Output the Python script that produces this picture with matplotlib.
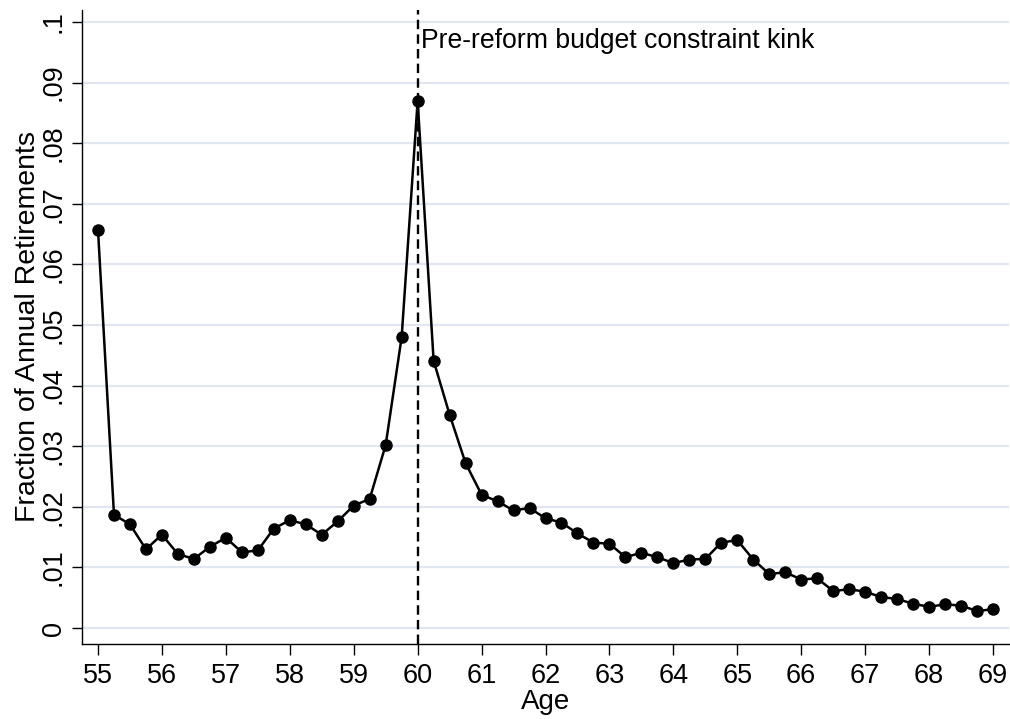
import matplotlib.pyplot as plt
import numpy as np

plt.rcParams['font.family'] = ['Liberation Sans', 'DejaVu Sans']

# retirement age by quarter
edad = np.arange(55, 69.01, 0.25)
fraccion = [0.0657, 0.0187, 0.0171, 0.0130, 0.0154, 0.0122, 0.0114, 0.0134,
            0.0149, 0.0125, 0.0128, 0.0164, 0.0178, 0.0171, 0.0154, 0.0176,
            0.0202, 0.0213, 0.0302, 0.0480, 0.0870, 0.0441, 0.0352, 0.0272,
            0.0220, 0.0209, 0.0194, 0.0198, 0.0181, 0.0174, 0.0156, 0.0141,
            0.0139, 0.0117, 0.0124, 0.0117, 0.0107, 0.0113, 0.0114, 0.0141,
            0.0145, 0.0113, 0.0089, 0.0092, 0.0080, 0.0082, 0.0061, 0.0064,
            0.0060, 0.0051, 0.0048, 0.0040, 0.0035, 0.0039, 0.0037, 0.0028,
            0.0031]

ytick_vals = np.arange(0, 0.101, 0.01)
ytick_txt = ["0", ".01", ".02", ".03", ".04", ".05", ".06", ".07", ".08", ".09", ".1"]
xtick_vals = np.arange(55, 70)

fig = plt.figure(figsize=(10.1, 7.19), dpi=100)
ax = fig.add_axes([0.0812, 0.1043, 0.9178, 0.882])

for y in ytick_vals:
    ax.axhline(y, color='#e1e6f0', lw=1.6, zorder=0)

ax.plot(edad, fraccion, color='black', lw=1.8, marker='o', markersize=8, zorder=3)
ax.axvline(60, color='black', lw=1.7, linestyle=(0, (4, 2.2)), zorder=2)
ax.text(60.05, 0.0957, "Pre-reform budget constraint kink", fontsize=19.2,
        va='baseline', ha='left')

ax.set_xlim(54.75, 69.25)
ax.set_ylim(-0.00264, 0.102)
ax.set_xticks(xtick_vals)
ax.set_xticklabels([str(v) for v in xtick_vals], fontsize=19.5)
ax.set_yticks(ytick_vals)
ax.set_yticklabels(ytick_txt, fontsize=19.5, rotation=90, va='center')
ax.tick_params(axis='x', length=8, width=1, pad=6)
ax.tick_params(axis='y', length=7, width=1, pad=4)

ax.spines['top'].set_visible(False)
ax.spines['right'].set_visible(False)
ax.spines['left'].set_linewidth(1)
ax.spines['bottom'].set_linewidth(1)

ax.set_xlabel("Age", fontsize=20, labelpad=0)
ax.set_ylabel("Fraction of Annual Retirements", fontsize=20.5, labelpad=0)

fig.savefig("out.png", dpi=100)
